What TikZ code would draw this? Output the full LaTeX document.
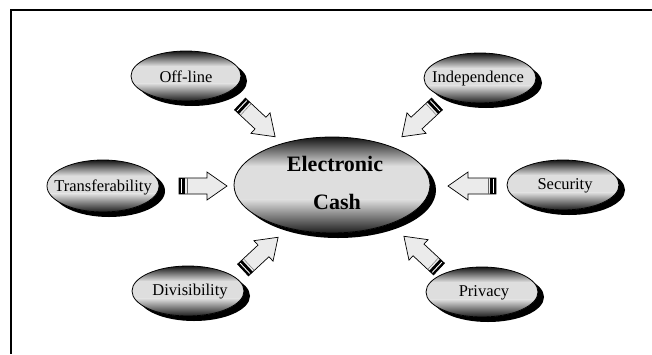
\documentclass[tikz,border=0pt]{standalone}
\usepackage{fontspec}
\setmainfont{Liberation Serif}
\usetikzlibrary{calc,shapes.geometric}
\tikzset{
  x=1pt, y=-1pt,
  frameline/.style={line width=1.6pt, black},
  shadowfill/.style={fill=black},
  bodyfill/.style={fill=black!13},
  bubbleoutline/.style={ellipse, draw=black, line width=0.8pt, inner sep=0pt, outer sep=0pt},
  bubbletext/.style={inner sep=0pt, font=\fontsize{16.5}{16.5}\selectfont},
  cashfont/.style={inner sep=0pt, font=\fontsize{22}{22}\selectfont\bfseries},
  arrowbody/.style={draw=black, line width=0.7pt, fill=black!8},
  blockarrow/.pic={
    \path[arrowbody] (0,-8) -- (28,-8) -- (28,-14) -- (48,0) -- (28,14) -- (28,8) -- (0,8) -- cycle;
    \fill[black] (0,-8) rectangle (6,8);
    \draw[white, line width=0.9pt] (2.6,-7) -- (2.6,7);
    \draw[black!60, line width=0.4pt] (8,-8) -- (8,8);
  }
}
% #1 name, #2 x, #3 y, #4 rx, #5 ry
\newcommand\mybubble[5]{%
  \path[shadowfill] ({#2+6},{#3+5}) ellipse [x radius=#4, y radius=#5];
  \begin{scope}
    \clip (#2,#3) ellipse [x radius=#4, y radius=#5];
    \path[bodyfill] ({#2-#4},{#3-#5}) rectangle ({#2+#4},{#3+#5});
    \shade[top color=black!92, bottom color=black!13] ({#2-#4},{#3-#5}) rectangle ({#2+#4},{#3-0.4*#5});
    \shade[top color=black!13, bottom color=black!88] ({#2-#4},{#3+0.3*#5}) rectangle ({#2+#4},{#3+#5});
  \end{scope}
  \node[bubbleoutline, minimum width={2*#4}, minimum height={2*#5}] (#1) at (#2,#3) {};
}
\begin{document}
\begin{tikzpicture}
\useasboundingbox (0,0) rectangle (652,354);
% frame (top and left edges)
\coordinate (ftr) at (652,10);
\coordinate (ftl) at (11,10);
\coordinate (fbl) at (11,354);
\draw[frameline] (ftr) -- (ftl) -- (fbl);

% central node
\mybubble{cash}{332}{185}{98}{48}
\node[cashfont] (cashtop) at (335,164) {Electronic};
\node[cashfont] (cashbot) at (337,202) {Cash};

% satellites
\mybubble{offline}{186}{76}{55}{25}
\node[bubbletext] (offlinet) at (186,77) {Off-line};
\mybubble{indep}{480}{78}{56}{25}
\node[bubbletext] (indept) at (478,79) {Independence};
\mybubble{transf}{103}{186}{56}{26}
\node[bubbletext] (transft) at (103,187) {Transferability};
\mybubble{secur}{563}{185}{56}{25}
\node[bubbletext] (securt) at (565,186) {Security};
\mybubble{divis}{188}{291}{56}{25}
\node[bubbletext] (divist) at (190,292) {Divisibility};
\mybubble{priv}{482}{292}{56}{25}
\node[bubbletext] (privt) at (484,293) {Privacy};

% arrow tails
\coordinate (aoff) at (240,104);
\coordinate (aind) at (437,104);
\coordinate (atra) at (179,186);
\coordinate (asec) at (496,186);
\coordinate (adiv) at (243,270);
\coordinate (apri) at (439,269);

\pic[rotate=-43] at (aoff) {blockarrow};
\pic[rotate=-137] at (aind) {blockarrow};
\pic at (atra) {blockarrow};
\pic[rotate=180] at (asec) {blockarrow};
\pic[rotate=43] at (adiv) {blockarrow};
\pic[rotate=137] at (apri) {blockarrow};
\end{tikzpicture}
\end{document}
